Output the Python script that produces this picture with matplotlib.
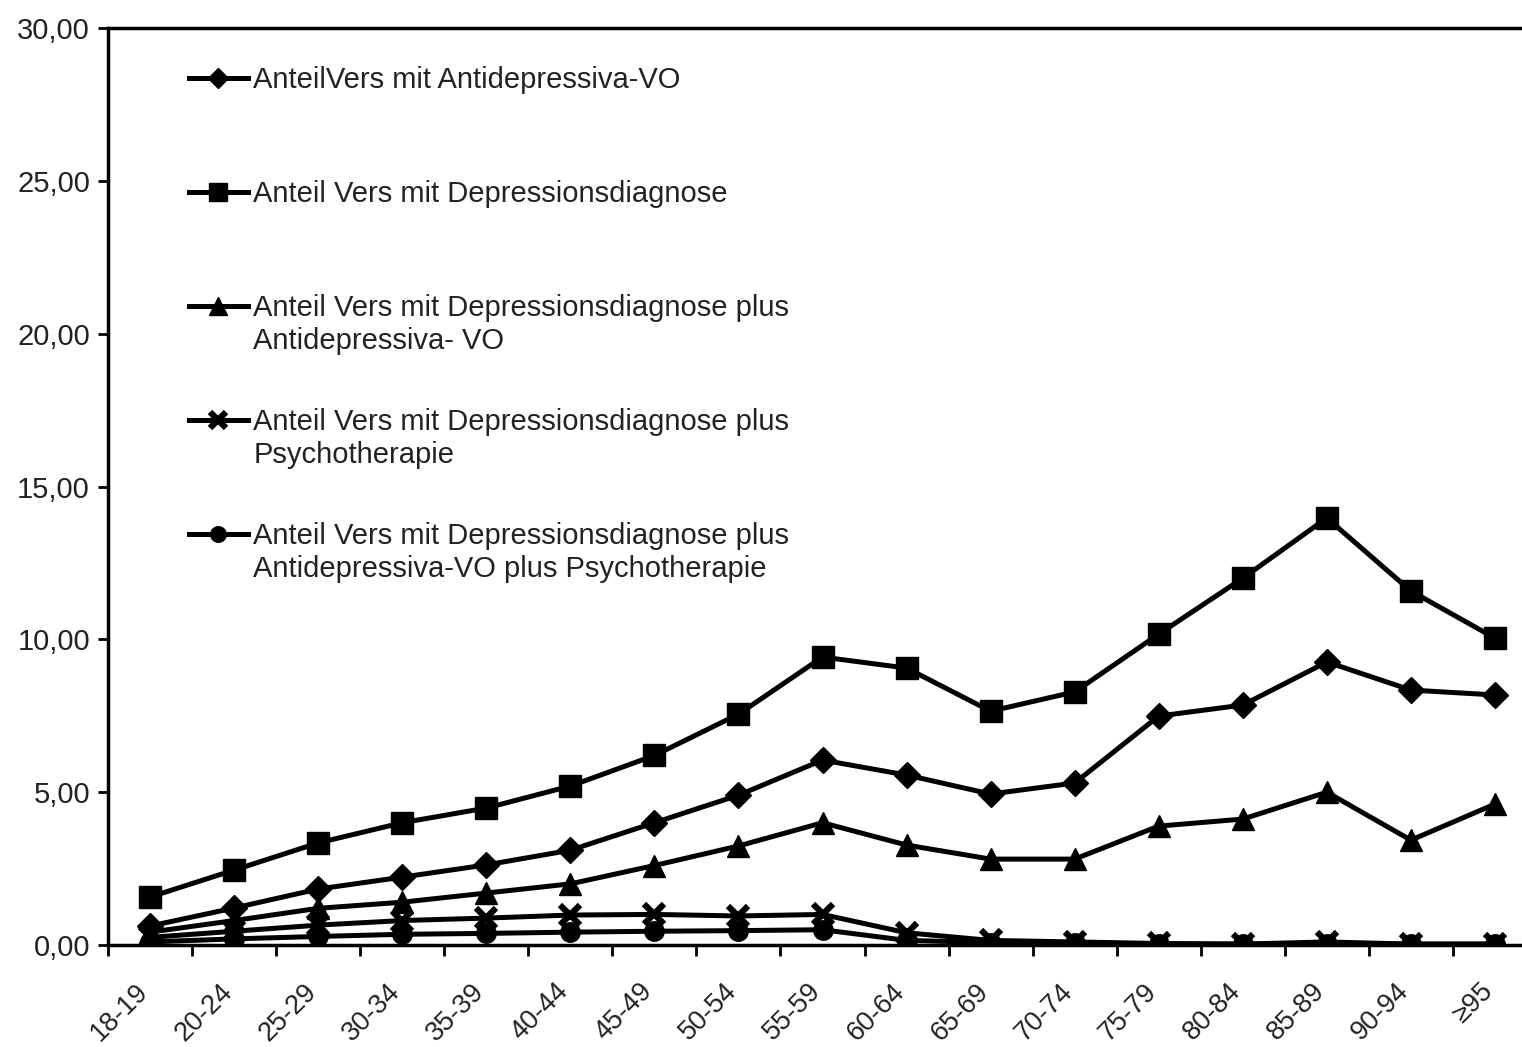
import numpy as np
import matplotlib.pyplot as plt
from matplotlib.transforms import ScaledTranslation

plt.rcParams['font.family'] = ['Liberation Sans', 'DejaVu Sans']

# Altersgruppen
altersgruppen = ['18-19', '20-24', '25-29', '30-34', '35-39', '40-44', '45-49', '50-54',
                 '55-59', '60-64', '65-69', '70-74', '75-79', '80-84', '85-89', '90-94', '≥95']

# Anteile in Prozent
antidepressiva = [0.62, 1.21, 1.83, 2.22, 2.62, 3.10, 4.00, 4.90, 6.05, 5.56, 4.94, 5.30,
                  7.49, 7.85, 9.26, 8.34, 8.18]
diagnose = [1.57, 2.45, 3.34, 4.00, 4.48, 5.20, 6.20, 7.55, 9.42, 9.06, 7.65, 8.28,
            10.17, 12.00, 13.97, 11.58, 10.04]
diag_ad = [0.42, 0.80, 1.20, 1.40, 1.70, 2.00, 2.60, 3.24, 4.00, 3.27, 2.81, 2.81,
           3.89, 4.12, 5.00, 3.43, 4.61]
diag_psych = [0.25, 0.45, 0.65, 0.80, 0.88, 0.98, 1.00, 0.95, 1.00, 0.40, 0.15, 0.10,
              0.05, 0.03, 0.10, 0.03, 0.03]
diag_ad_psych = [0.10, 0.20, 0.28, 0.35, 0.38, 0.42, 0.45, 0.47, 0.50, 0.15, 0.08, 0.07,
                 0.03, 0.03, 0.03, 0.03, 0.03]

# Legendentexte: erste Zeile in der Legende, zweite Zeile darunter
labels = ['AnteilVers mit Antidepressiva-VO',
          'Anteil Vers mit Depressionsdiagnose',
          'Anteil Vers mit Depressionsdiagnose plus',
          'Anteil Vers mit Depressionsdiagnose plus',
          'Anteil Vers mit Depressionsdiagnose plus']
labels2 = ['', '', 'Antidepressiva- VO', 'Psychotherapie',
           'Antidepressiva-VO plus Psychotherapie']

fig = plt.figure(figsize=(15.22, 10.47), dpi=100)
ax = fig.add_axes([108 / 1522, 1 - 945 / 1047, 1429 / 1522, (945 - 28) / 1047])

x = np.arange(len(altersgruppen))
lw = 3.6
l5, = ax.plot(x, diag_ad_psych, color='black', lw=lw, marker='o', ms=14)
l4, = ax.plot(x, diag_psych, color='black', lw=lw, marker='x', ms=15, mew=4.5)
l3, = ax.plot(x, diag_ad, color='black', lw=lw, marker='^', ms=16)
l2, = ax.plot(x, diagnose, color='black', lw=lw, marker='s', ms=16.5)
l1, = ax.plot(x, antidepressiva, color='black', lw=lw, marker='D', ms=13)

ax.set_xlim(-0.5, len(altersgruppen) - 0.5)
ax.set_ylim(0, 30)
ax.set_yticks(np.arange(0, 31, 5))
ax.set_yticklabels([f'{v:.2f}'.replace('.', ',') for v in np.arange(0, 31, 5)])
ax.set_xticks(x)
ax.set_xticklabels(altersgruppen, rotation=45, ha='right', va='top', rotation_mode='anchor')
ax.set_xticks(np.arange(-0.5, len(altersgruppen), 1), minor=True)
ax.tick_params(axis='x', which='major', length=0, labelsize=19.5, pad=24)
ax.tick_params(axis='x', which='minor', length=8, width=2, direction='out')
ax.tick_params(axis='y', length=7, width=2, labelsize=21, pad=6)
versatz = ScaledTranslation(-15 / 100, 0, fig.dpi_scale_trans)
for t in ax.get_xticklabels():
    t.set_transform(t.get_transform() + versatz)
for t in ax.get_yticklabels() + ax.get_xticklabels():
    t.set_color('#222222')

for s in ['left', 'top', 'bottom']:
    ax.spines[s].set_linewidth(2.5)
ax.spines['right'].set_visible(False)

leg = ax.legend([l1, l2, l3, l4, l5], labels, loc='upper left',
                bbox_to_anchor=(0.0385, 0.987), frameon=False, fontsize=21,
                handlelength=2.0, handletextpad=0.2, labelspacing=2.95,
                markerscale=0.8)
for t in leg.get_texts():
    t.set_color('#222222')

# zweite Zeilen unter den Legendeneinträgen
fig.canvas.draw()
W, H = fig.canvas.get_width_height()
for t, zweite in zip(leg.get_texts(), labels2):
    if zweite:
        bb = t.get_window_extent()
        fig.text(bb.x0 / W, (bb.y1 - 33) / H, zweite, fontsize=21, color='#222222',
                 ha='left', va='top')

fig.savefig('out.png', dpi=100)
